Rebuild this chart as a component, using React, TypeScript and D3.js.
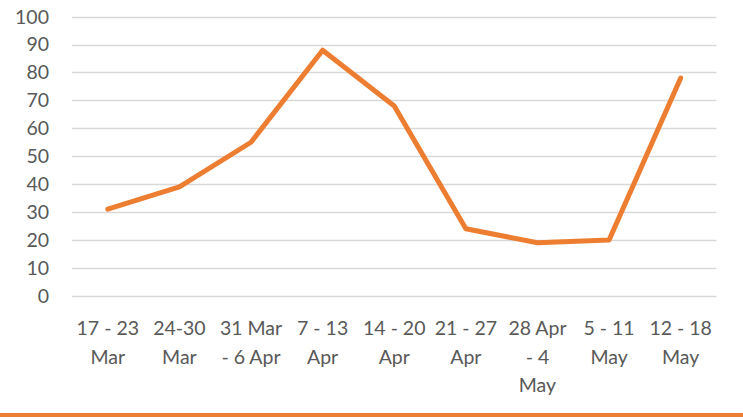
import React, { useEffect, useRef } from 'react';
import * as d3 from 'd3';

// weekly values
const weeks = [
  ['17 - 23', 'Mar'],
  ['24-30', 'Mar'],
  ['31 Mar', '- 6 Apr'],
  ['7 - 13', 'Apr'],
  ['14 - 20', 'Apr'],
  ['21 - 27', 'Apr'],
  ['28 Apr', '- 4', 'May'],
  ['5 - 11', 'May'],
  ['12 - 18', 'May'],
];
const values = [31, 39, 55, 88, 68, 24, 19, 20, 78];
const yTicks = [0, 10, 20, 30, 40, 50, 60, 70, 80, 90, 100];

const App = () => {
  const ref = useRef<SVGSVGElement>(null);

  useEffect(() => {
    const svg = d3.select(ref.current);
    svg.selectAll('*').remove();

    const width = 743;
    const height = 419;
    const left = 72;
    const right = 716.5;
    const top = 16.7;
    const bottom = 295.7;
    const font = 'Lato, "Open Sans", sans-serif';
    const textColor = '#595959';
    const fontSize = 19.5;

    const x = d3.scaleBand<number>()
      .domain(values.map((_, i) => i))
      .range([left, right]);

    const y = d3.scaleLinear()
      .domain([0, 100])
      .range([bottom, top]);

    svg.append('rect')
      .attr('width', width)
      .attr('height', height)
      .attr('fill', '#fff');

    // gridlines
    svg.append('g')
      .selectAll('line')
      .data(yTicks)
      .enter()
      .append('line')
      .attr('x1', left)
      .attr('x2', right)
      .attr('y1', d => Math.round(y(d)) + 0.5)
      .attr('y2', d => Math.round(y(d)) + 0.5)
      .attr('stroke', '#d9d9d9')
      .attr('stroke-width', 1.3);

    // y tick labels
    svg.append('g')
      .selectAll('text')
      .data(yTicks)
      .enter()
      .append('text')
      .attr('x', 49)
      .attr('y', d => y(d) + 6.8)
      .attr('text-anchor', 'end')
      .attr('font-family', font)
      .attr('font-size', fontSize)
      .attr('fill', textColor)
      .text(d => d);

    // x labels, wrapped like the original
    const xl = svg.append('g')
      .selectAll('text')
      .data(weeks)
      .enter()
      .append('text')
      .attr('text-anchor', 'middle')
      .attr('font-family', font)
      .attr('font-size', fontSize)
      .attr('fill', textColor);
    xl.each(function (lines, i) {
      const t = d3.select(this);
      lines.forEach((s, j) => {
        t.append('tspan')
          .attr('x', x(i)! + x.bandwidth() / 2)
          .attr('y', 335 + j * 28.5)
          .text(s);
      });
    });

    const line = d3.line<number>()
      .x((_, i) => x(i)! + x.bandwidth() / 2)
      .y(d => y(d));

    svg.append('path')
      .datum(values)
      .attr('d', line)
      .attr('fill', 'none')
      .attr('stroke', '#ed7d31')
      .attr('stroke-width', 5)
      .attr('stroke-linecap', 'round')
      .attr('stroke-linejoin', 'round');

    // orange rule along the bottom
    svg.append('rect')
      .attr('x', 0)
      .attr('y', 413)
      .attr('width', width)
      .attr('height', 4)
      .attr('fill', '#ed7d31');
  }, []);

  return (
    <svg
      ref={ref}
      width="743"
      height="419"
      style={{ position: 'absolute', left: 0, top: 0 }}
    ></svg>
  );
};

export default App;
